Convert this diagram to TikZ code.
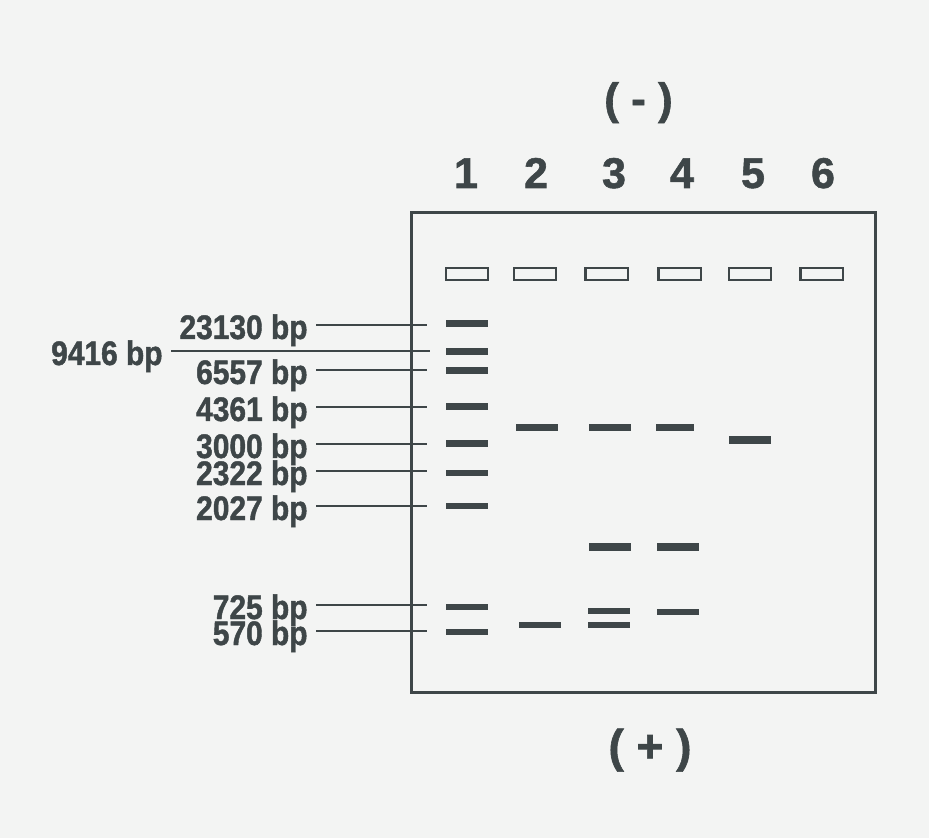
\documentclass[tikz,border=0pt]{standalone}
\usepackage{fontspec}
\setmainfont{Liberation Sans}
\newfontfamily\gelfont[FakeStretch=0.88, BoldFeatures={FakeBold=1.3}]{Liberation Sans}
\newfontfamily\heavyfont[BoldFeatures={FakeBold=1.3}]{Liberation Sans}
\usepackage{tikz}
\usetikzlibrary{positioning}
\definecolor{gelink}{RGB}{62,70,72}
\definecolor{gelpaper}{RGB}{243,244,243}
\tikzset{
  gelband/.style={fill=gelink, inner sep=0pt, minimum width=21pt, minimum height=3.5pt},
  thinband/.style={gelband, minimum height=2.6pt},
  wellbox/.style={draw=gelink, line width=1.2pt, inner sep=0pt, minimum width=21.2pt, minimum height=5.8pt},
  sizelabel/.style={anchor=base east, inner sep=0pt, text=gelink, font=\gelfont\bfseries\fontsize{17}{20}\selectfont},
  lanenum/.style={anchor=base, inner sep=0pt, text=gelink, font=\heavyfont\bfseries\fontsize{21.5}{24}\selectfont},
  pointer/.style={draw=gelink, line width=1.1pt, shorten <=4pt},
}

\begin{document}
\begin{tikzpicture}[x=0.5pt, y=-0.5pt]
  \fill[gelpaper] (0,0) rectangle (929,838);

  % electrodes
  \node[lanenum, font=\heavyfont\bfseries\fontsize{22}{24}\selectfont] (cathode) at (638.5,114) {( - )};
  \node[lanenum, font=\heavyfont\bfseries\fontsize{23}{26}\selectfont] (anode) at (650,762) {( + )};

  % gel and wells
  \draw[gelink, line width=1.5pt] (411,213) rectangle (875,692);
  \foreach \n/\x in {1/466,2/536,3/614,4/682,5/753,6/823}
    \node[lanenum] (n\n) at (\x,188) {\n};
  \foreach \n/\x in {1/467,2/535,3/606.5,4/679.5,5/750,6/821.5}
    \node[wellbox] (w\n) at (\x,274) {};

  % lane 1: size marker
  \foreach \y [count=\k] in {324,352,371,407,443}
    \node[gelband] (m\k) at (467,\y) {};
  \foreach \y [count=\k from 6] in {473,506,607,632}
    \node[thinband] (m\k) at (467,\y) {};

  % lanes 2-5
  \node[gelband] (b2a) at (537,428) {};
  \node[thinband] (b2b) at (540,625) {};
  \node[gelband] (b3a) at (609.5,428) {};
  \node[gelband, minimum height=4pt] (b3b) at (610,547) {};
  \node[thinband] (b3c) at (608.5,611) {};
  \node[thinband] (b3d) at (608.5,625) {};
  \node[gelband, minimum width=19pt] (b4a) at (675,428) {};
  \node[gelband, minimum height=4pt] (b4b) at (677.5,547) {};
  \node[thinband] (b4c) at (677.5,612) {};
  \node[gelband] (b5a) at (750,440) {};

  % size labels
  \foreach \bp/\y in {23130/325,6557/370,4361/407,3000/444,2322/471,2027/506,725/605,570/631} {
    \node[sizelabel] (l\bp) at (308,\y+14) {\bp\ bp};
    \coordinate (t\bp) at (427,\y);
    \draw[pointer] (t\bp -| l\bp.east) -- (t\bp);
  }
  \node[sizelabel] (l9416) at (163,365) {9416 bp};
  \coordinate (t9416) at (430,351);
  \draw[pointer] (t9416 -| l9416.east) -- (t9416);
\end{tikzpicture}
\end{document}
